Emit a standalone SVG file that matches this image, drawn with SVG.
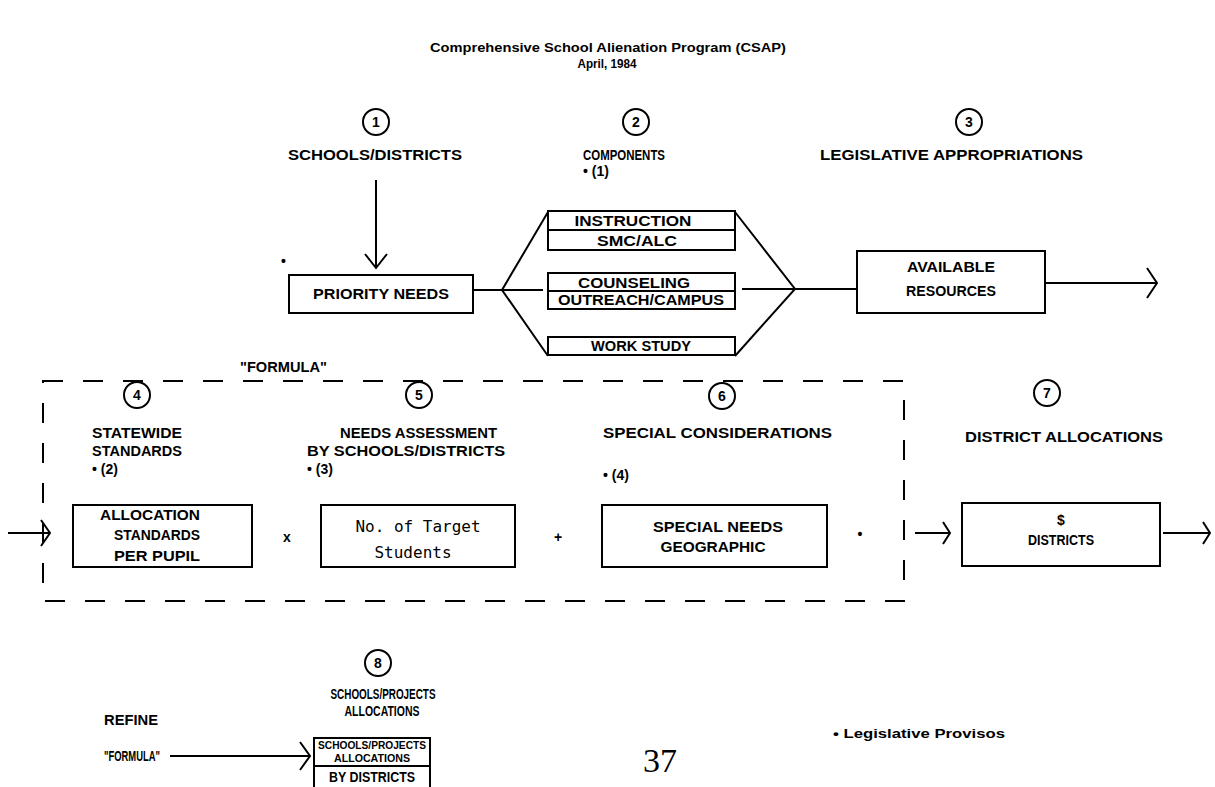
<svg xmlns="http://www.w3.org/2000/svg" width="1215" height="787" viewBox="0 0 1215 787">
<style>
text{font-family:"Liberation Sans",Arial,sans-serif;font-weight:bold;font-size:14px;fill:#000}
.c{text-anchor:middle}
.t{font-size:13px}
.s{font-size:11px}
.mono{font-family:"DejaVu Sans Mono","Liberation Mono",monospace;font-weight:normal;font-size:16px}
.box{fill:none;stroke:#000;stroke-width:2}
.ln{fill:none;stroke:#000;stroke-width:2}
.circ{fill:none;stroke:#000;stroke-width:2}
.dash{fill:none;stroke:#000;stroke-width:2;stroke-dasharray:20 20}
</style>
<rect width="1215" height="787" fill="#fff"/>
<g id="title">
<text class="c t" x="608" y="52" textLength="356" lengthAdjust="spacingAndGlyphs">Comprehensive School Alienation Program (CSAP)</text>
<text class="c t" x="607" y="68" textLength="59" lengthAdjust="spacingAndGlyphs">April, 1984</text>
</g>
<g id="n1">
<circle class="circ" cx="376" cy="122" r="13"/><text class="c" x="376" y="127">1</text>
<text class="c" x="375" y="160" textLength="174" lengthAdjust="spacingAndGlyphs">SCHOOLS/DISTRICTS</text>
</g>
<g id="n2">
<circle class="circ" cx="636" cy="122" r="13"/><text class="c" x="636" y="127">2</text>
<text x="583" y="160" textLength="82" lengthAdjust="spacingAndGlyphs">COMPONENTS</text>
<text x="583" y="176">•  (1)</text>
</g>
<g id="n3">
<circle class="circ" cx="969" cy="122" r="13"/><text class="c" x="969" y="127">3</text>
<text x="820" y="160" textLength="263" lengthAdjust="spacingAndGlyphs">LEGISLATIVE APPROPRIATIONS</text>
</g>
<g id="priority">
<text x="281" y="266">•</text>
<rect class="box" x="289" y="275" width="184" height="38"/>
<text class="c" x="381" y="299" textLength="136" lengthAdjust="spacingAndGlyphs">PRIORITY NEEDS</text>
</g>
<g id="components">
<rect class="box" x="548" y="211" width="187" height="39"/>
<line class="ln" x1="548" y1="230" x2="735" y2="230"/>
<text class="c" x="633" y="226" textLength="117" lengthAdjust="spacingAndGlyphs">INSTRUCTION</text>
<text class="c" x="637" y="246" textLength="80" lengthAdjust="spacingAndGlyphs">SMC/ALC</text>
<rect class="box" x="548" y="273" width="187" height="36"/>
<line class="ln" x1="548" y1="291" x2="735" y2="291"/>
<text class="c" x="634" y="288" textLength="112" lengthAdjust="spacingAndGlyphs">COUNSELING</text>
<text class="c" x="641" y="305" textLength="166" lengthAdjust="spacingAndGlyphs">OUTREACH/CAMPUS</text>
<rect class="box" x="548" y="337" width="187" height="18"/>
<text class="c" x="641" y="351" textLength="100" lengthAdjust="spacingAndGlyphs">WORK STUDY</text>
</g>
<g id="resources">
<rect class="box" x="857" y="251" width="188" height="62"/>
<text class="c" x="951" y="272" textLength="88" lengthAdjust="spacingAndGlyphs">AVAILABLE</text>
<text class="c" x="951" y="296" textLength="90" lengthAdjust="spacingAndGlyphs">RESOURCES</text>
</g>
<g id="formula">
<text x="240" y="372" textLength="87" lengthAdjust="spacingAndGlyphs">"FORMULA"</text>
<rect class="dash" x="43" y="381" width="861" height="220"/>
</g>
<g id="n4">
<circle class="circ" cx="137" cy="395" r="13"/><text class="c" x="137" y="400">4</text>
<text x="92" y="438" textLength="90" lengthAdjust="spacingAndGlyphs">STATEWIDE</text>
<text x="92" y="456" textLength="90" lengthAdjust="spacingAndGlyphs">STANDARDS</text>
<text x="92" y="474">•  (2)</text>
<rect class="box" x="73" y="505" width="179" height="62"/>
<text class="c" x="150" y="520" textLength="100" lengthAdjust="spacingAndGlyphs">ALLOCATION</text>
<text class="c" x="157" y="540" textLength="86" lengthAdjust="spacingAndGlyphs">STANDARDS</text>
<text class="c" x="157" y="561" textLength="86" lengthAdjust="spacingAndGlyphs">PER PUPIL</text>
</g>
<g id="n5">
<circle class="circ" cx="419" cy="395" r="13"/><text class="c" x="419" y="400">5</text>
<text x="340" y="438" textLength="157" lengthAdjust="spacingAndGlyphs">NEEDS ASSESSMENT</text>
<text x="307" y="456" textLength="198" lengthAdjust="spacingAndGlyphs">BY SCHOOLS/DISTRICTS</text>
<text x="307" y="474">•  (3)</text>
<rect class="box" x="321" y="505" width="194" height="62"/>
<text class="mono c" x="418" y="532">No. of Target</text>
<text class="mono c" x="413" y="558">Students</text>
</g>
<g id="n6">
<circle class="circ" cx="722" cy="396" r="13"/><text class="c" x="722" y="401">6</text>
<text x="603" y="438" textLength="229" lengthAdjust="spacingAndGlyphs">SPECIAL CONSIDERATIONS</text>
<text x="603" y="480">•  (4)</text>
<rect class="box" x="602" y="505" width="225" height="62"/>
<text class="c" x="718" y="532" textLength="130" lengthAdjust="spacingAndGlyphs">SPECIAL NEEDS</text>
<text class="c" x="713" y="552" textLength="105" lengthAdjust="spacingAndGlyphs">GEOGRAPHIC</text>
</g>
<g id="operators">
<text class="c" x="287" y="542">x</text>
<text class="c" x="558" y="542">+</text>
<text class="c" x="860" y="539">•</text>
</g>
<g id="n7">
<circle class="circ" cx="1047" cy="393" r="13"/><text class="c" x="1047" y="398">7</text>
<text x="965" y="442" textLength="198" lengthAdjust="spacingAndGlyphs">DISTRICT ALLOCATIONS</text>
<rect class="box" x="962" y="503" width="198" height="63"/>
<text class="c" x="1061" y="525">$</text>
<text class="c" x="1061" y="545" textLength="66" lengthAdjust="spacingAndGlyphs">DISTRICTS</text>
</g>
<g id="n8">
<circle class="circ" cx="378" cy="663" r="13"/><text class="c" x="378" y="668">8</text>
<text class="c" x="383" y="699" textLength="105" lengthAdjust="spacingAndGlyphs">SCHOOLS/PROJECTS</text>
<text class="c" x="382" y="716" textLength="75" lengthAdjust="spacingAndGlyphs">ALLOCATIONS</text>
<text x="104" y="725" textLength="54" lengthAdjust="spacingAndGlyphs">REFINE</text>
<text x="104" y="761" textLength="56" lengthAdjust="spacingAndGlyphs">"FORMULA"</text>
<rect class="box" x="314" y="738" width="116" height="60"/>
<line class="ln" x1="314" y1="766" x2="430" y2="766"/>
<text class="c s" x="372" y="749" textLength="108" lengthAdjust="spacingAndGlyphs">SCHOOLS/PROJECTS</text>
<text class="c s" x="372" y="762" textLength="76" lengthAdjust="spacingAndGlyphs">ALLOCATIONS</text>
<text class="c" x="372" y="782" textLength="86" lengthAdjust="spacingAndGlyphs">BY DISTRICTS</text>
</g>
<g id="notes">
<text class="t" x="833" y="738" textLength="172" lengthAdjust="spacingAndGlyphs">• Legislative Provisos</text>
<text x="643" y="772" style="font-family:'Liberation Serif',serif;font-weight:normal;font-size:34px">37</text>
</g>
<g id="connectors" class="ln">
<path class="ln" d="M376 180V268M365 254L376 268L387 254"/>
<path class="ln" d="M473 290H543M548 212L502 290L548 356"/>
<path class="ln" d="M735 212L795 289L735 356M742 289H857"/>
<path class="ln" d="M1045 283H1157M1147 268L1157 283L1147 298"/>
<path class="ln" d="M8 533H50M41 520L50 533L41 546"/>
<path class="ln" d="M915 533H950M943 522L950 533L943 544"/>
<path class="ln" d="M1163 533H1210M1203 522L1210 533L1203 544"/>
<path class="ln" d="M170 756H310M300 742L310 756L300 770"/>
</g>
</svg>
